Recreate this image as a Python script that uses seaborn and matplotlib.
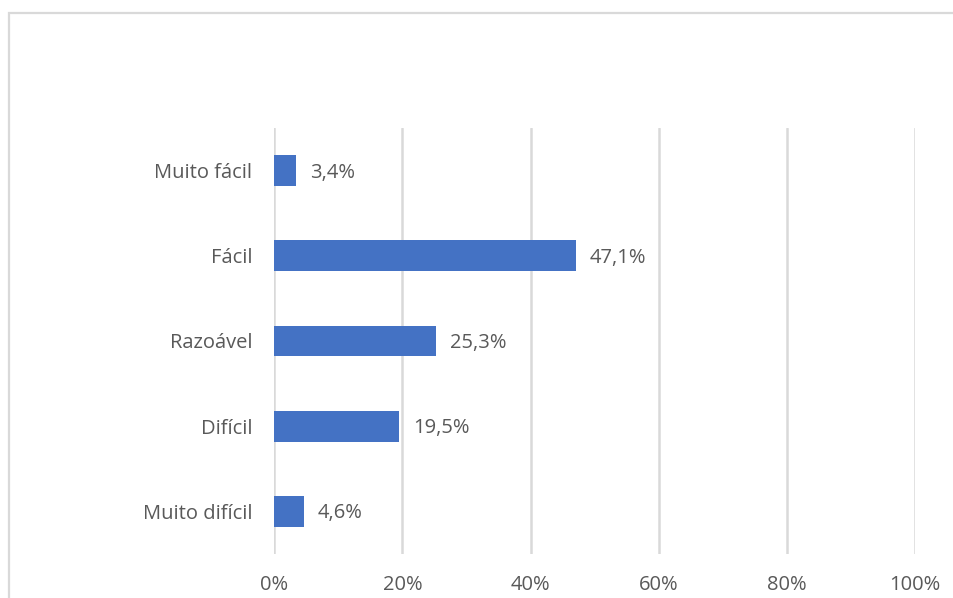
import matplotlib
matplotlib.use("Agg")
import matplotlib.pyplot as plt
import seaborn as sns
import pandas as pd
from matplotlib.patches import Rectangle

categories = ["Muito fácil", "Fácil", "Razoável", "Difícil", "Muito difícil"]
values = [3.4, 47.1, 25.3, 19.5, 4.6]
xticks = [0, 20, 40, 60, 80, 100]
xtick_labels = ["0%", "20%", "40%", "60%", "80%", "100%"]

sns.set_theme(style="white")
plt.rcParams['font.family'] = ['Open Sans', 'DejaVu Sans']

df = pd.DataFrame({"cat": categories, "val": values})

W, H = 954, 598
fig = plt.figure(figsize=(W / 100, H / 100), dpi=100)
ax = fig.add_axes([274.5 / W, 1 - 554 / H, 640 / W, 426 / H])

grey = "#595959"
grid = "#d9d9d9"
fs = 14.5

sns.barplot(data=df, x="val", y="cat", ax=ax, color="#4472C4", width=0.36,
            saturation=1, zorder=3, linewidth=0)

ax.set_xlim(0, 100)
ax.set_ylim(4.5, -0.5)
ax.set_xticks(xticks)
ax.set_xticklabels(xtick_labels, color=grey, fontsize=fs)
ax.tick_params(axis='x', length=0, pad=15)
ax.tick_params(axis='y', length=0, pad=16, labelcolor=grey, labelsize=fs)
for xt in xticks:
    ax.axvline(xt, color=grid, lw=1.8, zorder=1)
for s in ax.spines.values():
    s.set_visible(False)
ax.set_xlabel("")
ax.set_ylabel("")

for i, v in enumerate(values):
    ax.annotate(f"{v:.1f}%".replace(".", ","), (v, i), xytext=(10, -1.5),
                textcoords="offset points", va="center", ha="left",
                color=grey, fontsize=fs)

fig.patches.append(Rectangle((8.5, -20), 2000, H - 12.5 + 20, transform=None,
                             fill=False, edgecolor=grid, lw=1.6))

fig.savefig("out.png", dpi=100)
